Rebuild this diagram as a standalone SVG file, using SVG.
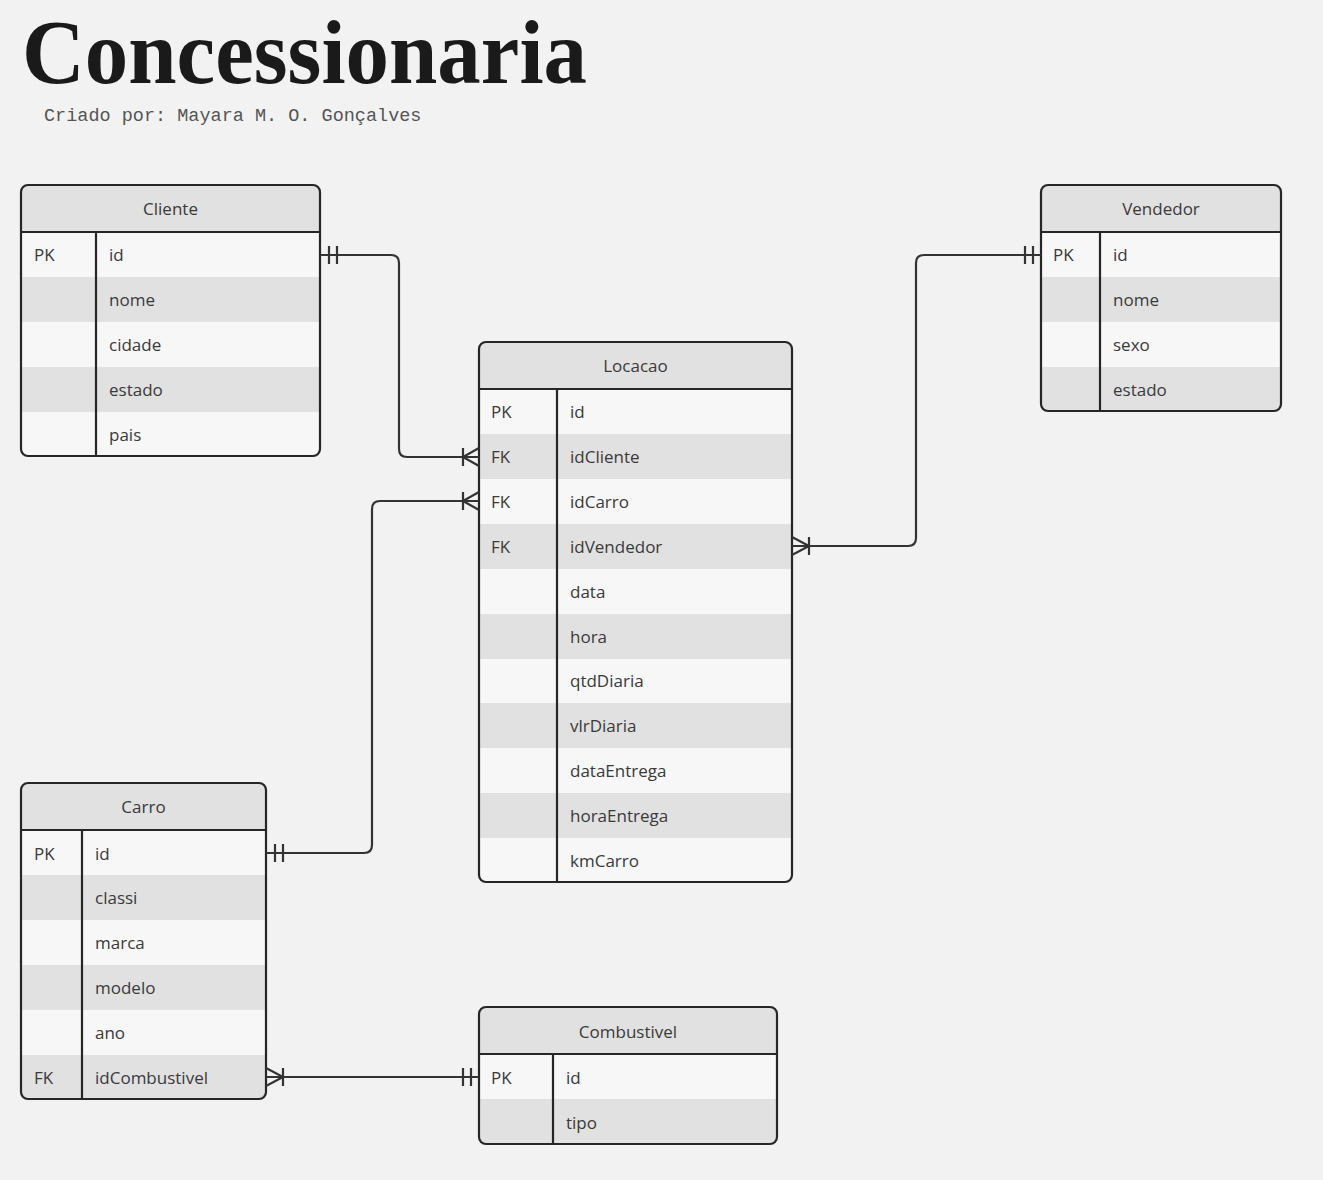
<svg xmlns="http://www.w3.org/2000/svg" width="1323" height="1180" viewBox="0 0 1323 1180">
<style>
.bg{fill:#f2f2f2}
.hd{fill:#e1e1e1}
.lt{fill:#f7f7f7}
.dk{fill:#e1e1e1}
.bd{fill:none;stroke:#262626;stroke-width:2.2}
.ln{stroke:#262626;stroke-width:2.2}
.ht{font-family:"Open Sans","Liberation Sans",sans-serif;font-size:17px;fill:#3a3a3a;text-anchor:middle}
.tx{font-family:"Open Sans","Liberation Sans",sans-serif;font-size:17px;fill:#3a3a3a}
.cn{fill:none;stroke:#333;stroke-width:2.2}
</style>
<defs>
<clipPath id="cCli"><rect x="21" y="185" width="299" height="271" rx="7"/></clipPath>
<clipPath id="cLoc"><rect x="479" y="342" width="313" height="540" rx="7"/></clipPath>
<clipPath id="cVen"><rect x="1041" y="185" width="240" height="226" rx="7"/></clipPath>
<clipPath id="cCar"><rect x="21" y="783" width="245" height="316" rx="7"/></clipPath>
<clipPath id="cCom"><rect x="479" y="1007" width="298" height="137" rx="7"/></clipPath>
</defs>
<rect class="bg" x="0" y="0" width="1323" height="1180"/>
<text x="22" y="83" font-family="Liberation Serif,Times New Roman,serif" font-weight="bold" font-size="92" fill="#1a1a1a" textLength="565" lengthAdjust="spacingAndGlyphs">Concessionaria</text>
<text x="44" y="121" font-family="Liberation Mono,DejaVu Sans Mono,monospace" font-size="18.5" fill="#555">Criado por: Mayara M. O. Gonçalves</text>

<g id="Cliente">
<g clip-path="url(#cCli)">
<rect class="hd" x="21" y="185" width="299" height="47"/>
<rect class="lt" x="21" y="232" width="299" height="45"/>
<rect class="dk" x="21" y="277" width="299" height="45"/>
<rect class="lt" x="21" y="322" width="299" height="45"/>
<rect class="dk" x="21" y="367" width="299" height="45"/>
<rect class="lt" x="21" y="412" width="299" height="44"/>
</g>
<line class="ln" x1="21" y1="232" x2="320" y2="232"/>
<line class="ln" x1="96" y1="232" x2="96" y2="456"/>
<rect class="bd" x="21" y="185" width="299" height="271" rx="7"/>
<text class="ht" x="170.5" y="215">Cliente</text>
<text class="tx" x="34" y="261">PK</text>
<text class="tx" x="109" y="261">id</text>
<text class="tx" x="109" y="306">nome</text>
<text class="tx" x="109" y="351">cidade</text>
<text class="tx" x="109" y="396">estado</text>
<text class="tx" x="109" y="441">pais</text>
</g>

<g id="Locacao">
<g clip-path="url(#cLoc)">
<rect class="hd" x="479" y="342" width="313" height="47"/>
<rect class="lt" x="479" y="389" width="313" height="45"/>
<rect class="dk" x="479" y="434" width="313" height="45"/>
<rect class="lt" x="479" y="479" width="313" height="45"/>
<rect class="dk" x="479" y="524" width="313" height="45"/>
<rect class="lt" x="479" y="569" width="313" height="45"/>
<rect class="dk" x="479" y="614" width="313" height="45"/>
<rect class="lt" x="479" y="659" width="313" height="44"/>
<rect class="dk" x="479" y="703" width="313" height="45"/>
<rect class="lt" x="479" y="748" width="313" height="45"/>
<rect class="dk" x="479" y="793" width="313" height="45"/>
<rect class="lt" x="479" y="838" width="313" height="44"/>
</g>
<line class="ln" x1="479" y1="389" x2="792" y2="389"/>
<line class="ln" x1="557" y1="389" x2="557" y2="882"/>
<rect class="bd" x="479" y="342" width="313" height="540" rx="7"/>
<text class="ht" x="635.5" y="372">Locacao</text>
<text class="tx" x="491" y="418">PK</text>
<text class="tx" x="570" y="418">id</text>
<text class="tx" x="491" y="463">FK</text>
<text class="tx" x="570" y="463">idCliente</text>
<text class="tx" x="491" y="508">FK</text>
<text class="tx" x="570" y="508">idCarro</text>
<text class="tx" x="491" y="553">FK</text>
<text class="tx" x="570" y="553">idVendedor</text>
<text class="tx" x="570" y="598">data</text>
<text class="tx" x="570" y="643">hora</text>
<text class="tx" x="570" y="687">qtdDiaria</text>
<text class="tx" x="570" y="732">vlrDiaria</text>
<text class="tx" x="570" y="777">dataEntrega</text>
<text class="tx" x="570" y="822">horaEntrega</text>
<text class="tx" x="570" y="867">kmCarro</text>
</g>

<g id="Vendedor">
<g clip-path="url(#cVen)">
<rect class="hd" x="1041" y="185" width="240" height="47"/>
<rect class="lt" x="1041" y="232" width="240" height="45"/>
<rect class="dk" x="1041" y="277" width="240" height="45"/>
<rect class="lt" x="1041" y="322" width="240" height="45"/>
<rect class="dk" x="1041" y="367" width="240" height="44"/>
</g>
<line class="ln" x1="1041" y1="232" x2="1281" y2="232"/>
<line class="ln" x1="1100" y1="232" x2="1100" y2="411"/>
<rect class="bd" x="1041" y="185" width="240" height="226" rx="7"/>
<text class="ht" x="1161" y="215">Vendedor</text>
<text class="tx" x="1053" y="261">PK</text>
<text class="tx" x="1113" y="261">id</text>
<text class="tx" x="1113" y="306">nome</text>
<text class="tx" x="1113" y="351">sexo</text>
<text class="tx" x="1113" y="396">estado</text>
</g>

<g id="Carro">
<g clip-path="url(#cCar)">
<rect class="hd" x="21" y="783" width="245" height="47"/>
<rect class="lt" x="21" y="830" width="245" height="45"/>
<rect class="dk" x="21" y="875" width="245" height="45"/>
<rect class="lt" x="21" y="920" width="245" height="45"/>
<rect class="dk" x="21" y="965" width="245" height="45"/>
<rect class="lt" x="21" y="1010" width="245" height="45"/>
<rect class="dk" x="21" y="1055" width="245" height="44"/>
</g>
<line class="ln" x1="21" y1="830" x2="266" y2="830"/>
<line class="ln" x1="82" y1="830" x2="82" y2="1099"/>
<rect class="bd" x="21" y="783" width="245" height="316" rx="7"/>
<text class="ht" x="143.5" y="813">Carro</text>
<text class="tx" x="34" y="860">PK</text>
<text class="tx" x="95" y="860">id</text>
<text class="tx" x="95" y="904">classi</text>
<text class="tx" x="95" y="949">marca</text>
<text class="tx" x="95" y="994">modelo</text>
<text class="tx" x="95" y="1039">ano</text>
<text class="tx" x="34" y="1084">FK</text>
<text class="tx" x="95" y="1084">idCombustivel</text>
</g>

<g id="Combustivel">
<g clip-path="url(#cCom)">
<rect class="hd" x="479" y="1007" width="298" height="47"/>
<rect class="lt" x="479" y="1054" width="298" height="45"/>
<rect class="dk" x="479" y="1099" width="298" height="45"/>
</g>
<line class="ln" x1="479" y1="1054" x2="777" y2="1054"/>
<line class="ln" x1="553" y1="1054" x2="553" y2="1144"/>
<rect class="bd" x="479" y="1007" width="298" height="137" rx="7"/>
<text class="ht" x="628" y="1038">Combustivel</text>
<text class="tx" x="491" y="1084">PK</text>
<text class="tx" x="566" y="1084">id</text>
<text class="tx" x="566" y="1129">tipo</text>
</g>

<g id="connectors">
<!-- Cliente.id -> Locacao.idCliente -->
<path class="cn" d="M320,255 H391 Q399,255 399,263 V449 Q399,457 407,457 H479"/>
<path class="cn" d="M329,246 V264 M337,246 V264"/>
<path class="cn" d="M463,448 V466 M479,448 L463,457 L479,466"/>
<!-- Carro.id -> Locacao.idCarro -->
<path class="cn" d="M266,853 H364 Q372,853 372,845 V509 Q372,501 380,501 H479"/>
<path class="cn" d="M275,844 V862 M283,844 V862"/>
<path class="cn" d="M463,492 V510 M479,492 L463,501 L479,510"/>
<!-- Vendedor.id -> Locacao.idVendedor -->
<path class="cn" d="M1041,255 H924 Q916,255 916,263 V538 Q916,546 908,546 H792"/>
<path class="cn" d="M1025,246 V264 M1033,246 V264"/>
<path class="cn" d="M809,537 V555 M792,537 L809,546 L792,555"/>
<!-- Carro.idCombustivel -> Combustivel.id -->
<path class="cn" d="M266,1077 H479"/>
<path class="cn" d="M283,1068 V1086 M266,1068 L283,1077 L266,1086"/>
<path class="cn" d="M463,1068 V1086 M471,1068 V1086"/>
</g>
</svg>
